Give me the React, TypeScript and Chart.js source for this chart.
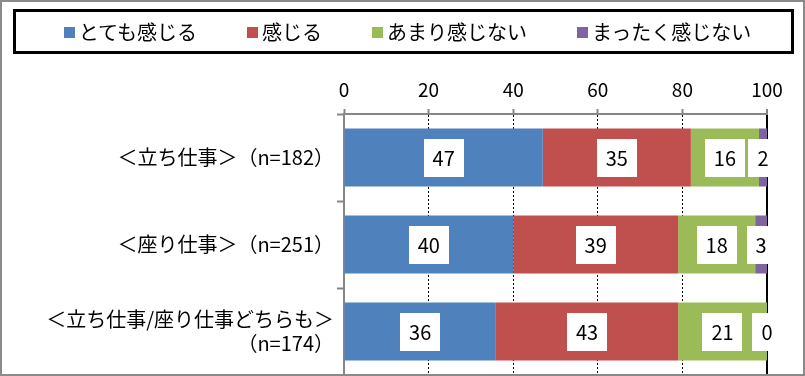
import React, { useEffect, useRef } from "react";
import { Chart, registerables } from "chart.js";

Chart.register(...registerables);

const categories: (string | string[])[] = [
  "＜立ち仕事＞（n=182）",
  "＜座り仕事＞（n=251）",
  ["＜立ち仕事/座り仕事どちらも＞", "（n=174）"],
];
const seriesNames = ["とても感じる", "感じる", "あまり感じない", "まったく感じない"];
const seriesColors = ["#4F81BD", "#C0504D", "#9BBB59", "#8064A2"];
const veryMuch = [47.0, 40.0, 35.9];
const feel = [35.0, 39.0, 43.1];
const notMuch = [16.1, 18.2, 21.0];
const notAtAll = [1.9, 2.8, 0.0];
const seriesValues = [veryMuch, feel, notMuch, notAtAll];
const xMin = 0;
const xMax = 100;
const xStep = 20;

const FAMILY = '"Noto Sans CJK JP", "Noto Sans", sans-serif';

const boxLabels = {
  id: "boxLabels",
  afterDatasetsDraw(chart: any) {
    const ctx = chart.ctx;
    ctx.save();
    ctx.font = `20px ${FAMILY}`;
    ctx.textAlign = "center";
    ctx.textBaseline = "middle";
    chart.data.datasets.forEach((ds: any, di: number) => {
      const meta = chart.getDatasetMeta(di);
      meta.data.forEach((bar: any, i: number) => {
        const v = ds.data[i];
        const text = String(Math.round(v));
        const p = bar.getCenterPoint();
        const w = ctx.measureText(text).width + 18;
        const h = 38;
        ctx.fillStyle = "#fff";
        ctx.fillRect(Math.round(p.x - w / 2), Math.round(p.y - h / 2), Math.round(w), h);
        ctx.fillStyle = "#000";
        ctx.fillText(text, p.x, p.y + 1);
      });
    });
    ctx.restore();
  },
};

export default function App() {
  const ref = useRef<HTMLCanvasElement | null>(null);

  useEffect(() => {
    if (!ref.current) return;
    const chart = new Chart(ref.current, {
      type: "bar",
      data: {
        labels: categories as any,
        datasets: seriesNames.map((name, i) => ({
          label: name,
          data: seriesValues[i],
          backgroundColor: seriesColors[i],
          borderWidth: 0,
          categoryPercentage: 1,
          barPercentage: 0.667,
        })),
      },
      options: {
        indexAxis: "y",
        responsive: false,
        animation: false,
        layout: { padding: { top: 74, left: 0, right: 38, bottom: 1 } },
        plugins: {
          legend: { display: false },
          tooltip: { enabled: false },
        },
        scales: {
          x: {
            position: "top",
            stacked: true,
            min: xMin,
            max: xMax,
            ticks: {
              stepSize: xStep,
              color: "#000",
              font: { size: 19, family: FAMILY },
              padding: 8,
            },
            grid: {
              color: (c: any) => (c.index === 0 ? "rgba(0,0,0,0)" : "#000"),
              lineWidth: (c: any) => (c.index === 5 ? 2 : 1),
              tickColor: "#868686",
              tickLength: 5,
              tickWidth: 2,
            },
            border: {
              color: "#868686",
              width: 2,
              dash: (c: any) => (c.index === 5 ? [] : [2, 2]),
            },
            afterFit: (s: any) => {
              s.height = 40;
            },
          } as any,
          y: {
            stacked: true,
            ticks: {
              color: "#000",
              font: { size: 20, family: FAMILY, lineHeight: 1.2 },
              padding: 3,
            },
            grid: {
              drawOnChartArea: false,
              tickColor: "#868686",
              tickLength: 7,
              tickWidth: 2,
            },
            border: { color: "#868686", width: 2 },
            afterFit: (s: any) => {
              s.width = 344;
              s.paddingTop = 0;
              s.paddingBottom = 0;
            },
          } as any,
        },
      } as any,
      plugins: [boxLabels],
    });
    return () => chart.destroy();
  }, []);

  return (
    <div
      style={{
        position: "fixed",
        left: 0,
        top: 0,
        width: 805,
        height: 376,
        background: "#fff",
      }}
    >
      <canvas ref={ref} width={805} height={376} style={{ display: "block" }} />
      <div
        style={{
          position: "absolute",
          left: 13,
          top: 9,
          width: 781,
          height: 45,
          border: "3px solid #000",
          boxSizing: "border-box",
          display: "flex",
          alignItems: "center",
          justifyContent: "center",
          gap: 50,
          paddingLeft: 8,
          paddingTop: 1,
          fontFamily: FAMILY,
          fontSize: 20,
          color: "#000",
          lineHeight: "24px",
        }}
      >
        {seriesNames.map((name, i) => (
          <div key={name} style={{ display: "flex", alignItems: "center" }}>
            <span
              style={{
                display: "inline-block",
                width: 11,
                height: 11,
                background: seriesColors[i],
                marginRight: 4,
              }}
            />
            <span>{name}</span>
          </div>
        ))}
      </div>
      <div
        style={{
          position: "absolute",
          left: 0,
          top: 0,
          width: 805,
          height: 376,
          border: "2px solid #8a8a8a",
          boxSizing: "border-box",
          pointerEvents: "none",
        }}
      />
    </div>
  );
}
